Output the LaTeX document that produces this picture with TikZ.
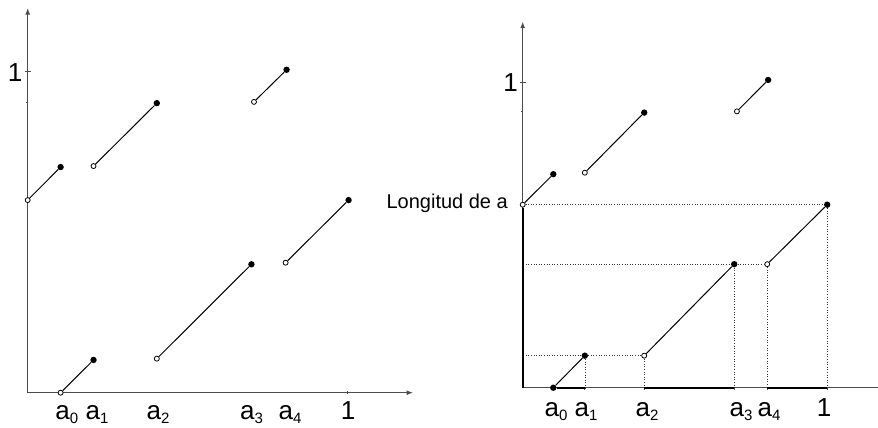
\documentclass[tikz,border=0pt]{standalone}
\usepackage{fontspec}
\setmainfont{Liberation Sans}
\usetikzlibrary{arrows.meta}
\newcommand{\sbs}[1]{\raisebox{-4.5pt}{\fontsize{15}{15}\selectfont #1}}
\begin{document}
\begin{tikzpicture}[
  axisline/.style={draw=black!70, line width=1pt},
  axisarrow/.style={axisline, -{Latex[length=6.5pt,width=5pt]}},
  opendot/.style={circle, draw=black, fill=white, line width=0.8pt, inner sep=0pt, minimum size=5pt},
  filldot/.style={circle, fill=black, inner sep=0pt, minimum size=6.4pt},
  seg/.style={line width=1pt},
  guide/.style={dotted, line width=0.6pt, draw=black!80},
  thickaxis/.style={line width=2.2pt},
  lab/.style={font=\fontsize{26}{26}\selectfont, anchor=base, inner sep=0pt},
  sidelab/.style={font=\fontsize{20}{20}\selectfont, anchor=base east, inner sep=0pt},
]
\useasboundingbox (0,0) rectangle (878pt,-428pt);

% ---------------- left plot ----------------
\begin{scope}[shift={(27.7pt,-392.7pt)}, x=319.6pt, y=321pt]
  \coordinate (LO) at (0,0);
  \coordinate (LX) at (1.2056,0);
  \coordinate (LY) at (0,1.198);
  \draw[axisarrow] (LO) -- (LX);
  \draw[axisarrow] (LO) -- (LY);
  \draw[axisline] ([xshift=-3pt]0,1) -- ([xshift=3pt]0,1);
  \draw[axisline] ([xshift=-1.5pt]0,0.903) -- (0,0.903);
  \draw[axisline] ([yshift=-1.5pt]1,0) -- ([yshift=1.5pt]1,0);

  \node[opendot] (l1a) at (0,0.6) {};
  \node[filldot] (l1b) at (0.103,0.703) {};
  \node[opendot] (l2a) at (0.206,0.706) {};
  \node[filldot] (l2b) at (0.404,0.902) {};
  \node[opendot] (l3a) at (0.708,0.906) {};
  \node[filldot] (l3b) at (0.81,1.006) {};
  \node[opendot] (l4a) at (0.103,0) {};
  \node[filldot] (l4b) at (0.206,0.102) {};
  \node[opendot] (l5a) at (0.404,0.106) {};
  \node[filldot] (l5b) at (0.70,0.400) {};
  \node[opendot] (l6a) at (0.807,0.405) {};
  \node[filldot] (l6b) at (1.004,0.6) {};
  \draw[seg] (l1a) -- (l1b);
  \draw[seg] (l2a) -- (l2b);
  \draw[seg] (l3a) -- (l3b);
  \draw[seg] (l4a) -- (l4b);
  \draw[seg] (l5a) -- (l5b);
  \draw[seg] (l6a) -- (l6b);
\end{scope}

\node[lab] (ly1) at (15pt,-81.7pt) {1};
\node[lab] (la0) at (66.7pt,-419pt) {a\sbs{0}};
\node[lab] (la1) at (97pt,-419pt) {a\sbs{1}};
\node[lab] (la2) at (158pt,-419pt) {a\sbs{2}};
\node[lab] (la3) at (251.5pt,-419pt) {a\sbs{3}};
\node[lab] (la4) at (290pt,-419pt) {a\sbs{4}};
\node[lab] (lx1) at (348pt,-419pt) {1};

% ---------------- right plot ----------------
\begin{scope}[shift={(522.7pt,-387.7pt)}, x=303pt, y=305pt]
  \coordinate (RO) at (0,0);
  \coordinate (RX) at (1.1726,0);
  \coordinate (RY) at (0,1.2);
  \draw[axisline] (RO) -- (RX);
  \draw[axisarrow] (RO) -- (RY);
  \draw[axisline] ([xshift=-3pt]0,1) -- ([xshift=3pt]0,1);
  \draw[axisline] ([xshift=-1.5pt]0,0.905) -- (0,0.905);
  \foreach \t in {0.205,0.401,0.698,0.807,1.005}
    \draw[axisline] ([yshift=-1.8pt]\t,0) -- ([yshift=1.2pt]\t,0);

  \node[opendot] (r1a) at (0,0.6) {};
  \node[filldot] (r1b) at (0.101,0.70) {};
  \node[opendot] (r2a) at (0.205,0.705) {};
  \node[filldot] (r2b) at (0.401,0.902) {};
  \node[opendot] (r3a) at (0.707,0.906) {};
  \node[filldot] (r3b) at (0.81,1.009) {};
  \node[filldot] (r4a) at (0.101,0) {};
  \node[filldot] (r4b) at (0.205,0.105) {};
  \node[opendot] (r5a) at (0.401,0.105) {};
  \node[filldot] (r5b) at (0.698,0.405) {};
  \node[opendot] (r6a) at (0.807,0.405) {};
  \node[filldot] (r6b) at (1.005,0.6) {};

  % dotted guides
  \draw[guide] (r1a) -- (r6b);
  \draw[guide] (r6b) -- (1.005,0);
  \draw[guide] (0.01,0.405) -- (r5b);
  \draw[guide] (r5b) -- (r6a);
  \draw[guide] (r5b) -- (0.698,0);
  \draw[guide] (r6a) -- (0.807,0);
  \draw[guide] (0.01,0.105) -- (r4b);
  \draw[guide] (r4b) -- (r5a);
  \draw[guide] (r4b) -- (0.205,0);
  \draw[guide] (r5a) -- (0.401,0);

  % thick parts
  \draw[thickaxis] (RO) -- (r1a);
  \draw[thickaxis] (r4a) -- (0.205,0);
  \draw[thickaxis] (0.401,0) -- (0.698,0);
  \draw[thickaxis] (0.807,0) -- (1.005,0);

  \draw[seg] (r1a) -- (r1b);
  \draw[seg] (r2a) -- (r2b);
  \draw[seg] (r3a) -- (r3b);
  \draw[seg] (r4a) -- (r4b);
  \draw[seg] (r5a) -- (r5b);
  \draw[seg] (r6a) -- (r6b);
\end{scope}

\node[lab] (ry1) at (510.5pt,-91.7pt) {1};
\node[sidelab] (rlong) at (508pt,-208pt) {Longitud de a};
\node[lab] (ra0) at (556pt,-416pt) {a\sbs{0}};
\node[lab] (ra1) at (586pt,-416pt) {a\sbs{1}};
\node[lab] (ra2) at (647pt,-416pt) {a\sbs{2}};
\node[lab] (ra3) at (741pt,-416pt) {a\sbs{3}};
\node[lab] (ra4) at (769pt,-416pt) {a\sbs{4}};
\node[lab] (rx1) at (824pt,-416pt) {1};
\end{tikzpicture}
\end{document}
